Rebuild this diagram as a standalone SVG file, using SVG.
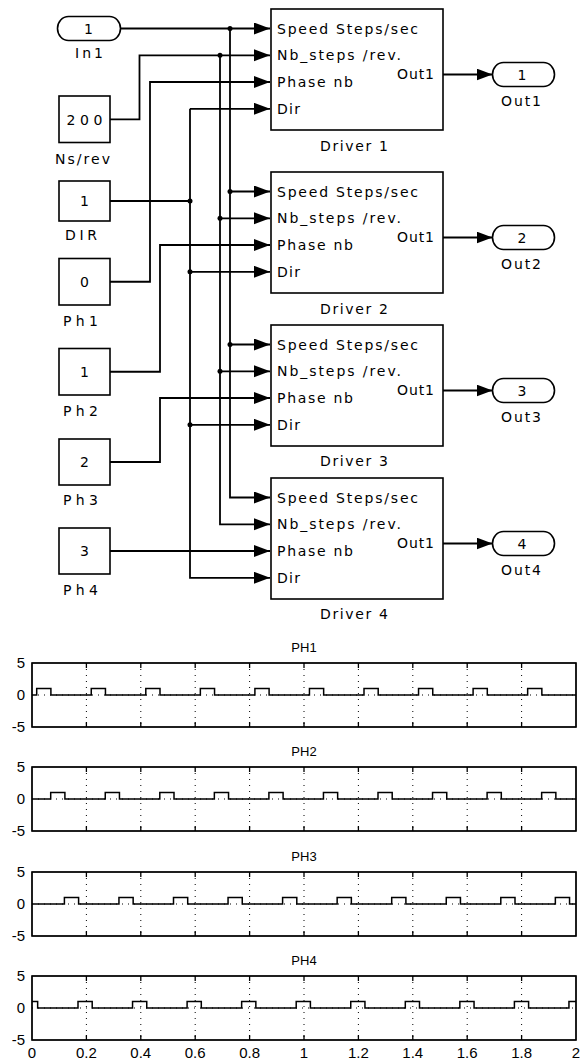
<svg xmlns="http://www.w3.org/2000/svg" xmlns:xlink="http://www.w3.org/1999/xlink" width="585" height="1062" viewBox="0 0 585 1062">
<style>
text{font-family:"Liberation Sans",Arial,sans-serif;fill:#000}
.blk{font-family:"DejaVu Sans","Liberation Sans",sans-serif;font-size:14px}
.mid{text-anchor:middle}
.end{text-anchor:end}
.box{fill:#fff;stroke:#000;stroke-width:1.6}
.wire{fill:none;stroke:#000;stroke-width:1.8;marker-end:url(#ah)}
.plain{fill:none;stroke:#000;stroke-width:1.8}
.dot{fill:#000}
.ax{fill:#fff;stroke:#000;stroke-width:1.3}
.grid{stroke:#000;stroke-width:1;stroke-dasharray:1 5;fill:none}
.tick{stroke:#000;stroke-width:1.3}
.sig{fill:none;stroke:#000;stroke-width:1.5}
.pt{font-size:15px}
.ttl{font-size:13px;text-anchor:middle}
</style>
<defs>
<marker id="ah" markerUnits="userSpaceOnUse" markerWidth="17" markerHeight="13" refX="16" refY="6" orient="auto">
<path d="M0 0 L16 6 L0 12 Z" fill="#000"/>
</marker>
<path id="train" d="M-70 0 H-54.55 V-6.4 H-40.35 V0 H0 V-6.4 H14.2 V0 H54.55 V-6.4 H68.75 V0 H109.1 V-6.4 H123.3 V0 H163.65 V-6.4 H177.85 V0 H218.2 V-6.4 H232.4 V0 H272.75 V-6.4 H286.95 V0 H327.3 V-6.4 H341.5 V0 H381.85 V-6.4 H396.05 V0 H436.4 V-6.4 H450.6 V0 H490.95 V-6.4 H505.15 V0 H545.5 V-6.4 H559.7 V0 H620"/>
<g id="axes">
<rect class="ax" x="32" y="0" width="544" height="64"/>
<path class="grid" d="M32 32 H576 M86.4 0 V64 M140.8 0 V64 M195.2 0 V64 M249.6 0 V64 M304 0 V64 M358.4 0 V64 M412.8 0 V64 M467.2 0 V64 M521.6 0 V64"/>
<path class="tick" d="M86.4 0 v5 M140.8 0 v5 M195.2 0 v5 M249.6 0 v5 M304 0 v5 M358.4 0 v5 M412.8 0 v5 M467.2 0 v5 M521.6 0 v5 M86.4 64 v-5 M140.8 64 v-5 M195.2 64 v-5 M249.6 64 v-5 M304 64 v-5 M358.4 64 v-5 M412.8 64 v-5 M467.2 64 v-5 M521.6 64 v-5"/>
<rect x="32" y="0" width="544" height="64" fill="none" stroke="#000" stroke-width="1.3"/>
</g>
<clipPath id="c1"><rect x="32" y="663" width="544" height="64"/></clipPath>
<clipPath id="c2"><rect x="32" y="767" width="544" height="64"/></clipPath>
<clipPath id="c3"><rect x="32" y="872" width="544" height="64"/></clipPath>
<clipPath id="c4"><rect x="32" y="976" width="544" height="64"/></clipPath>
</defs>

<g id="connectors">
<path class="wire" d="M120.5 28.5 H270"/>
<path class="wire" d="M230 28.5 V497.5 H270"/>
<path class="wire" d="M230 191.5 H270"/>
<path class="wire" d="M230 344.5 H270"/>
<path class="wire" d="M110 119.3 H139.5 V55.3 H270"/>
<path class="wire" d="M220 55.3 V524.3 H270"/>
<path class="wire" d="M220 218.3 H270"/>
<path class="wire" d="M220 371.3 H270"/>
<path class="plain" d="M110 201 H190"/>
<path class="wire" d="M190 108.8 H270"/>
<path class="wire" d="M190 108.8 V577.8 H270"/>
<path class="wire" d="M190 271.8 H270"/>
<path class="wire" d="M190 424.8 H270"/>
<path class="wire" d="M110 281.75 H150 V82 H270"/>
<path class="wire" d="M110 371.75 H160 V245 H270"/>
<path class="wire" d="M110 462 H160 V398 H270"/>
<path class="wire" d="M110 551 H270"/>
<path class="wire" d="M443 74.5 H492.5"/>
<path class="wire" d="M443 237.5 H492.5"/>
<path class="wire" d="M443 390.5 H492.5"/>
<path class="wire" d="M443 543.5 H492.5"/>
<circle class="dot" cx="230" cy="28.5" r="2.5"/>
<circle class="dot" cx="230" cy="191.5" r="2.5"/>
<circle class="dot" cx="230" cy="344.5" r="2.5"/>
<circle class="dot" cx="220" cy="55.3" r="2.5"/>
<circle class="dot" cx="220" cy="218.3" r="2.5"/>
<circle class="dot" cx="220" cy="371.3" r="2.5"/>
<circle class="dot" cx="190" cy="201" r="2.5"/>
<circle class="dot" cx="190" cy="271.8" r="2.5"/>
<circle class="dot" cx="190" cy="424.8" r="2.5"/>
</g>

<g id="In1">
<rect class="box" x="57.5" y="16.5" width="63" height="24" rx="11" ry="12"/>
<text class="blk mid" x="88.5" y="33.5">1</text>
<text class="blk mid" x="89" y="58" textLength="28">In1</text>
</g>
<g id="NsRev">
<rect class="box" x="59" y="96" width="51" height="46.5"/>
<text class="blk mid" x="84.5" y="124.5" textLength="36">200</text>
<text class="blk mid" x="82.5" y="163.5" textLength="55">Ns/rev</text>
</g>
<g id="DIR">
<rect class="box" x="59" y="181" width="51" height="40"/>
<text class="blk mid" x="84.5" y="206">1</text>
<text class="blk mid" x="81" y="240" textLength="32">DIR</text>
</g>
<g id="Ph1">
<rect class="box" x="59" y="258.5" width="51" height="46.5"/>
<text class="blk mid" x="84.5" y="286.5">0</text>
<text class="blk mid" x="80.5" y="325.5" textLength="35">Ph1</text>
</g>
<g id="Ph2">
<rect class="box" x="59" y="348.5" width="51" height="46.5"/>
<text class="blk mid" x="84.5" y="376.5">1</text>
<text class="blk mid" x="80.5" y="415.5" textLength="35">Ph2</text>
</g>
<g id="Ph3">
<rect class="box" x="59" y="439" width="51" height="46"/>
<text class="blk mid" x="84.5" y="467">2</text>
<text class="blk mid" x="80.5" y="505" textLength="35">Ph3</text>
</g>
<g id="Ph4">
<rect class="box" x="59" y="528" width="51" height="46"/>
<text class="blk mid" x="84.5" y="556">3</text>
<text class="blk mid" x="80.5" y="595" textLength="35">Ph4</text>
</g>

<g id="Driver1">
<rect class="box" x="271" y="9" width="172" height="121"/>
<text class="blk" x="277" y="33.5" textLength="141">Speed Steps/sec</text>
<text class="blk" x="277" y="60.3" textLength="124">Nb_steps /rev.</text>
<text class="blk" x="277" y="87" textLength="76">Phase nb</text>
<text class="blk" x="277" y="113.8" textLength="23">Dir</text>
<text class="blk end" x="434" y="78.5" textLength="37">Out1</text>
<text class="blk mid" x="354" y="151" textLength="68">Driver 1</text>
</g>
<g id="Driver2">
<rect class="box" x="271" y="172" width="172" height="121"/>
<text class="blk" x="277" y="196.5" textLength="141">Speed Steps/sec</text>
<text class="blk" x="277" y="223.3" textLength="124">Nb_steps /rev.</text>
<text class="blk" x="277" y="250" textLength="76">Phase nb</text>
<text class="blk" x="277" y="276.8" textLength="23">Dir</text>
<text class="blk end" x="434" y="241.5" textLength="37">Out1</text>
<text class="blk mid" x="354" y="314" textLength="68">Driver 2</text>
</g>
<g id="Driver3">
<rect class="box" x="271" y="325" width="172" height="121"/>
<text class="blk" x="277" y="349.5" textLength="141">Speed Steps/sec</text>
<text class="blk" x="277" y="376.3" textLength="124">Nb_steps /rev.</text>
<text class="blk" x="277" y="403" textLength="76">Phase nb</text>
<text class="blk" x="277" y="429.8" textLength="23">Dir</text>
<text class="blk end" x="434" y="394.5" textLength="37">Out1</text>
<text class="blk mid" x="354" y="466" textLength="68">Driver 3</text>
</g>
<g id="Driver4">
<rect class="box" x="271" y="478" width="172" height="121"/>
<text class="blk" x="277" y="502.5" textLength="141">Speed Steps/sec</text>
<text class="blk" x="277" y="529.3" textLength="124">Nb_steps /rev.</text>
<text class="blk" x="277" y="556" textLength="76">Phase nb</text>
<text class="blk" x="277" y="582.8" textLength="23">Dir</text>
<text class="blk end" x="434" y="547.5" textLength="37">Out1</text>
<text class="blk mid" x="354" y="619" textLength="68">Driver 4</text>
</g>

<g id="Out1">
<rect class="box" x="492.5" y="62.5" width="62" height="24" rx="11" ry="12"/>
<text class="blk mid" x="522" y="79.5">1</text>
<text class="blk mid" x="521" y="106" textLength="40">Out1</text>
</g>
<g id="Out2">
<rect class="box" x="492.5" y="225.5" width="62" height="24" rx="11" ry="12"/>
<text class="blk mid" x="522" y="242.5">2</text>
<text class="blk mid" x="521" y="269" textLength="40">Out2</text>
</g>
<g id="Out3">
<rect class="box" x="492.5" y="378.5" width="62" height="24" rx="11" ry="12"/>
<text class="blk mid" x="522" y="395.5">3</text>
<text class="blk mid" x="521" y="422" textLength="40">Out3</text>
</g>
<g id="Out4">
<rect class="box" x="492.5" y="531.5" width="62" height="24" rx="11" ry="12"/>
<text class="blk mid" x="522" y="548.5">4</text>
<text class="blk mid" x="521" y="575" textLength="40">Out4</text>
</g>

<g id="plot-PH1">
<text class="ttl" x="304" y="651.5">PH1</text>
<use xlink:href="#axes" href="#axes" transform="translate(0,663)"/>
<g clip-path="url(#c1)"><use xlink:href="#train" href="#train" class="sig" transform="translate(36.7,695)"/></g>
<text class="pt end" x="25" y="668">5</text>
<text class="pt end" x="25" y="700">0</text>
<text class="pt end" x="25" y="732">-5</text>
</g>
<g id="plot-PH2">
<text class="ttl" x="304" y="755.5">PH2</text>
<use xlink:href="#axes" href="#axes" transform="translate(0,767)"/>
<g clip-path="url(#c2)"><use xlink:href="#train" href="#train" class="sig" transform="translate(50.7,799)"/></g>
<text class="pt end" x="25" y="772">5</text>
<text class="pt end" x="25" y="804">0</text>
<text class="pt end" x="25" y="836">-5</text>
</g>
<g id="plot-PH3">
<text class="ttl" x="304" y="860.5">PH3</text>
<use xlink:href="#axes" href="#axes" transform="translate(0,872)"/>
<g clip-path="url(#c3)"><use xlink:href="#train" href="#train" class="sig" transform="translate(64.4,904)"/></g>
<text class="pt end" x="25" y="877">5</text>
<text class="pt end" x="25" y="909">0</text>
<text class="pt end" x="25" y="941">-5</text>
</g>
<g id="plot-PH4">
<text class="ttl" x="304" y="964.5">PH4</text>
<use xlink:href="#axes" href="#axes" transform="translate(0,976)"/>
<g clip-path="url(#c4)"><use xlink:href="#train" href="#train" class="sig" transform="translate(78,1008)"/></g>
<text class="pt end" x="25" y="981">5</text>
<text class="pt end" x="25" y="1013">0</text>
<text class="pt end" x="25" y="1045">-5</text>
<text class="pt mid" x="32" y="1058">0</text>
<text class="pt mid" x="86.4" y="1058">0.2</text>
<text class="pt mid" x="140.8" y="1058">0.4</text>
<text class="pt mid" x="195.2" y="1058">0.6</text>
<text class="pt mid" x="249.6" y="1058">0.8</text>
<text class="pt mid" x="304" y="1058">1</text>
<text class="pt mid" x="358.4" y="1058">1.2</text>
<text class="pt mid" x="412.8" y="1058">1.4</text>
<text class="pt mid" x="467.2" y="1058">1.6</text>
<text class="pt mid" x="521.6" y="1058">1.8</text>
<text class="pt mid" x="576" y="1058">2</text>
</g>
</svg>
